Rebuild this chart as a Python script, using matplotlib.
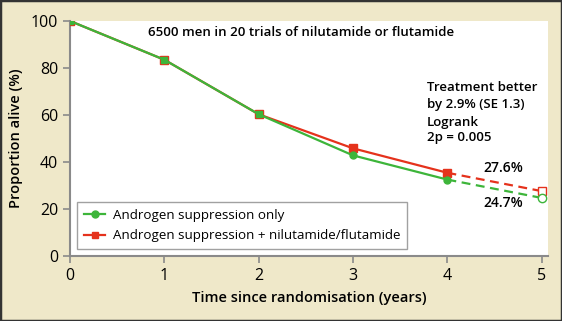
import matplotlib.pyplot as plt
from matplotlib.patches import Rectangle

# survival (%) by year
years = [0, 1, 2, 3, 4, 5]
control = [100, 83.5, 60.3, 42.8, 32.5, 24.7]
treated = [100, 83.5, 60.3, 45.8, 35.4, 27.6]
yticks = [0, 20, 40, 60, 80, 100]

green = "#3db53a"
red = "#e5321c"
beige = "#efe8c9"
grey = "#8a8a8a"

plt.rcParams["font.family"] = ["Open Sans", "DejaVu Sans"]

fig = plt.figure(figsize=(5.62, 3.21), dpi=100, facecolor=beige)
fig.patches.append(Rectangle((0, 0), 1, 1, transform=fig.transFigure, fill=False,
                             edgecolor="#333333", linewidth=2.5))
ax = fig.add_axes([0.1246, 0.2025, 0.8504, 0.7321])

# solid part, years 0-4
ax.plot(years[:5], treated[:5], color=red, lw=1.6, marker="s", ms=5.5, zorder=3)
ax.plot(years[:5], control[:5], color=green, lw=1.6, zorder=4)
ax.plot(years[:3], control[:3], color=green, lw=0, marker="s", ms=4.2, zorder=5)
ax.plot(years[3:5], control[3:5], color=green, lw=0, marker="o", ms=5, zorder=5)
# dashed extrapolation to year 5
ax.plot(years[4:], treated[4:], color=red, lw=1.6, ls=(0, (4, 2.5)), zorder=3)
ax.plot(years[4:], control[4:], color=green, lw=1.6, ls=(0, (4, 2.5)), zorder=3)
ax.plot(years[5], treated[5], marker="s", ms=6, mfc="white", mec=red, mew=1, zorder=5)
ax.plot(years[5], control[5], marker="o", ms=6, mfc="white", mec=green, mew=1, zorder=5)

# legend proxies
h1, = ax.plot([], [], color=green, lw=1.6, marker="o", ms=5,
              label="Androgen suppression only")
h2, = ax.plot([], [], color=red, lw=1.6, marker="s", ms=5,
              label="Androgen suppression + nilutamide/flutamide")
leg = ax.legend(handles=[h1, h2], loc="lower left", bbox_to_anchor=(0.015, 0.03),
                borderaxespad=0, fontsize=9.6, frameon=True, fancybox=False,
                edgecolor=grey, handlelength=1.6, borderpad=0.5, labelspacing=0.55,
                handletextpad=0.6)
leg.get_frame().set_linewidth(1)

ax.set_xlim(0, 5.065)
ax.set_ylim(0, 100)
ax.set_xticks(years)
ax.set_yticks(yticks)
ax.tick_params(colors=grey, labelcolor="black", labelsize=11.5, length=5, width=1.2)
for s in ["top", "right"]:
    ax.spines[s].set_visible(False)
for s in ["left", "bottom"]:
    ax.spines[s].set_color(grey)
    ax.spines[s].set_linewidth(1.5)

ax.set_xlabel("Time since randomisation (years)", fontsize=10.5, fontweight="semibold",
              labelpad=5)
ax.set_ylabel("Proportion alive (%)", fontsize=10.5, fontweight="semibold", labelpad=6)

ax.text(0.83, 94.9, "6500 men in 20 trials of nilutamide or flutamide", fontsize=9.5,
        fontweight="semibold", va="center")
ax.text(3.78, 67.9, "Treatment better\nby 2.9% (SE 1.3)", fontsize=9.5,
        fontweight="semibold", va="center", linespacing=1.4)
ax.text(3.78, 53.8, "Logrank\n2p = 0.005", fontsize=9.5,
        fontweight="semibold", va="center", linespacing=1.2)
ax.text(4.59, 37.4, "27.6%", fontsize=10, fontweight="semibold", ha="center", va="center")
ax.text(4.59, 22.4, "24.7%", fontsize=10, fontweight="semibold", ha="center", va="center")

fig.savefig("out.png", dpi=100, facecolor=beige)
